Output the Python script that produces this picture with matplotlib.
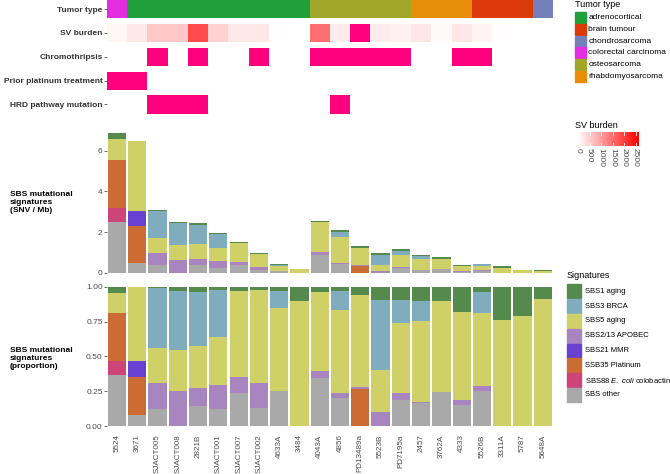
import numpy as np
import matplotlib
matplotlib.use('Agg')
import matplotlib.pyplot as plt
from matplotlib.colors import LinearSegmentedColormap, Normalize
from matplotlib.patches import Rectangle

plt.rcParams['font.family'] = ['Liberation Sans', 'DejaVu Sans']
plt.rcParams['mathtext.fontset'] = 'custom'
plt.rcParams['mathtext.it'] = 'Liberation Sans:italic'
plt.rcParams['mathtext.rm'] = 'Liberation Sans'

# samples, in plotting order
samples = ['5524', '3671', 'SJACT005', 'SJACT008', '2821B', 'SJACT001', 'SJACT007',
           'SJACT002', '4633A', '3484', '4043A', '4856', 'PD13489a', '5523B', 'PD7195a',
           '2457', '3762A', '4333', '5526B', '3311A', '5787', '5648A']

tumor_type = ['colorectal carcinoma', 'adrenocortical', 'adrenocortical', 'adrenocortical',
              'adrenocortical', 'adrenocortical', 'adrenocortical', 'adrenocortical',
              'adrenocortical', 'adrenocortical', 'osteosarcoma', 'osteosarcoma',
              'osteosarcoma', 'osteosarcoma', 'osteosarcoma', 'rhabdomyosarcoma',
              'rhabdomyosarcoma', 'rhabdomyosarcoma', 'brain tumour', 'brain tumour',
              'brain tumour', 'chondrosarcoma']
sv_burden = [100, 240, 580, 580, 1870, 470, 240, 240, 20, 0, 1500, 200, np.nan, 200, 150,
             250, 60, 250, 120, 30, 10, 0]
chromothripsis = [0, 0, 1, 0, 1, 0, 0, 1, 0, 0, 1, 1, 1, 1, 1, 0, 0, 1, 1, 0, 0, 0]
prior_platinum = [1, 1, 0, 0, 0, 0, 0, 0, 0, 0, 0, 0, 0, 0, 0, 0, 0, 0, 0, 0, 0, 0]
hrd_mutation = [0, 0, 1, 1, 1, 0, 0, 0, 0, 0, 0, 1, 0, 0, 0, 0, 0, 0, 0, 0, 0, 0]

# total SBS burden (SNV / Mb)
snv_total = [6.85, 6.5, 3.07, 2.51, 2.44, 1.93, 1.51, 0.96, 0.41, 0.18, 2.56, 2.08, 1.30,
             0.97, 1.16, 0.89, 0.75, 0.38, 0.43, 0.31, 0.15, 0.11]

# signature proportions per sample
sbs_other = [0.367, 0.077, 0.125, 0, 0.146, 0.125, 0.24, 0.132, 0.252, 0, 0.345, 0.199, 0, 0,
             0.19, 0.163, 0.245, 0.151, 0.254, 0, 0, 0]
sbs88 = [0.101, 0, 0, 0, 0, 0, 0, 0, 0, 0, 0, 0, 0, 0, 0, 0, 0, 0, 0, 0, 0, 0]
sbs35 = [0.342, 0.273, 0, 0, 0, 0, 0, 0, 0, 0, 0, 0, 0.269, 0, 0, 0, 0, 0, 0, 0, 0, 0]
sbs21 = [0, 0.12, 0, 0, 0, 0, 0, 0, 0, 0, 0, 0, 0, 0, 0, 0, 0, 0, 0, 0, 0, 0]
sbs2_13 = [0, 0, 0.185, 0.254, 0.127, 0.17, 0.11, 0.175, 0, 0, 0.051, 0.036, 0.014, 0.098,
           0.047, 0.007, 0, 0.039, 0.034, 0, 0, 0]
sbs5 = [0.15, 0.53, 0.25, 0.296, 0.302, 0.345, 0.624, 0.669, 0.594, 0.90, 0.57, 0.602, 0.662,
        0.302, 0.504, 0.585, 0.655, 0.628, 0.525, 0.765, 0.789, 0.916]
sbs3 = [0, 0, 0.43, 0.42, 0.391, 0.34, 0, 0, 0.123, 0, 0, 0.134, 0, 0.504, 0.168, 0.145, 0, 0,
        0.149, 0, 0, 0]
sbs1 = [0.04, 0, 0.01, 0.03, 0.034, 0.02, 0.026, 0.024, 0.031, 0.10, 0.034, 0.029, 0.055,
        0.096, 0.091, 0.10, 0.10, 0.182, 0.038, 0.235, 0.211, 0.084]

sig_labels = ['SBS1 aging', 'SBS3 BRCA', 'SBS5 aging', 'SBS2/13 APOBEC', 'SBS21 MMR',
              'SSB35 Platinum', r'SBS88 $\it{E.}$ $\it{coli}$ colobactin', 'SBS other']
sig_values = [sbs1, sbs3, sbs5, sbs2_13, sbs21, sbs35, sbs88, sbs_other]
sig_colors = ['#548B4C', '#7FADBE', '#CFD068', '#A985C0', '#6841D2', '#CB6C35', '#CC4478',
              '#A9A9A9']

tumor_names = ['adrenocortical', 'brain tumour', 'chondrosarcoma', 'colorectal carcinoma',
               'osteosarcoma', 'rhabdomyosarcoma']
tumor_colors = ['#1FA03A', '#DC3A0A', '#7480B8', '#E22EE0', '#A1A62A', '#E88D0A']
hot_pink = '#FF007F'

track_labels = ['Tumor type', 'SV burden', 'Chromothripsis', 'Prior platinum treatment',
                'HRD pathway mutation']

W, H = 670, 474
fig = plt.figure(figsize=(W / 100, H / 100), dpi=100)


def px(x0, y0, x1, y1):
    return [x0 / W, 1 - y1 / H, (x1 - x0) / W, (y1 - y0) / H]


txt = '#4D4D4D'
x = np.arange(len(samples))
xl, xr = 106.8, 553

# overlay axes in pixel coords for the legends
lg = fig.add_axes([0, 0, 1, 1], zorder=-1)
lg.set_xlim(0, W)
lg.set_ylim(H, 0)
lg.axis('off')

# ---- annotation tracks ----
at = fig.add_axes(px(xl, 0, xr, 113.5))
hh = 0.756
cmap_sv = LinearSegmentedColormap.from_list('sv', ['#FFFFFF', '#FF0000'])
norm_sv = Normalize(0, 2650)
tcol = dict(zip(tumor_names, tumor_colors))
at.bar(x, hh, bottom=-hh / 2, width=1, color=[tcol[t] for t in tumor_type])
svc = [hot_pink if np.isnan(v) else cmap_sv(norm_sv(v)) for v in sv_burden]
at.bar(x, hh, bottom=1 - hh / 2, width=1, color=svc)
for row, flags in [(2, chromothripsis), (3, prior_platinum), (4, hrd_mutation)]:
    f = np.array(flags) == 1
    at.bar(x[f], hh, bottom=row - hh / 2, width=1, color=hot_pink)
at.set_xlim(-0.5, len(samples) - 0.5)
at.set_ylim(4 + 0.378, -0.378)
at.set_yticks(range(5))
at.set_yticklabels(track_labels, fontsize=6, fontweight='bold', color='#333333')
at.set_xticks([])
at.tick_params(axis='y', length=2, width=0.5, color='#333333', pad=1)
for s in at.spines.values():
    s.set_visible(False)

# ---- absolute and proportional signatures ----
stack_order = list(range(len(sig_values)))[::-1]
tot = np.array(snv_total)
props = [np.array(v, dtype=float) for v in sig_values]
psum = np.sum(props, axis=0)
props = [p / psum for p in props]

a1 = fig.add_axes(px(xl, 126.5, xr, 279.7))
a2 = fig.add_axes(px(xl, 280, xr, 433))
bot1 = np.zeros(len(samples))
bot2 = np.zeros(len(samples))
for i in stack_order:
    v = props[i] * tot
    a1.bar(x, v, bottom=bot1, width=0.9, color=sig_colors[i], linewidth=0)
    a2.bar(x, props[i], bottom=bot2, width=0.9, color=sig_colors[i], linewidth=0)
    bot1 += v
    bot2 += props[i]

a1.set_ylim(-0.3425, 7.1925)
a1.set_yticks([0, 2, 4, 6])
a1.set_xticks([])
a2.set_ylim(-0.05, 1.05)
a2.set_yticks([0, 0.25, 0.5, 0.75, 1.0])
a2.set_yticklabels(['0.00', '0.25', '0.50', '0.75', '1.00'])
a2.set_xticks(x)
a2.set_xticklabels(samples, rotation=90, fontsize=5.8, color=txt)
for a in (a1, a2):
    a.set_xlim(-0.5, len(samples) - 0.5)
    a.tick_params(axis='y', labelsize=6, labelcolor=txt, length=2, width=0.5,
                  color='#333333', pad=1)
    a.tick_params(axis='x', length=0, pad=1)
    for s in a.spines.values():
        s.set_visible(False)

fig.text(10 / W, 1 - 203 / H, 'SBS mutational\nsignatures\n(SNV / Mb)', fontsize=6,
         fontweight='bold', ha='left', va='center', linespacing=1.2)
fig.text(10 / W, 1 - 358 / H, 'SBS mutational\nsignatures\n(proportion)', fontsize=6,
         fontweight='bold', ha='left', va='center', linespacing=1.2)

# ---- tumor type legend ----
lg.text(575, 4, 'Tumor type', fontsize=6.5, ha='left', va='center', color='black')
for k, (name, col) in enumerate(zip(tumor_names, tumor_colors)):
    yc = 17.8 + k * 11.7
    lg.add_patch(Rectangle((575, yc - 5.5), 11, 11, color=col))
    lg.text(588.5, yc, name, fontsize=6, ha='left', va='center', color='black')

# ---- SV burden colorbar ----
lg.text(575, 125, 'SV burden', fontsize=6.5, ha='left', va='center', color='black')
cb = fig.add_axes(px(578, 132, 639, 145.7))
grad = np.linspace(0, 2650, 256).reshape(1, -1)
cb.imshow(grad, cmap=cmap_sv, norm=norm_sv, aspect='auto', extent=(0, 2650, 0, 1))
cb.set_xlim(0, 2650)
cb.set_yticks([])
cb.set_xticks([0, 500, 1000, 1500, 2000, 2500])
cb.set_xticklabels(['0', '500', '1000', '1500', '2000', '2500'], rotation=270,
                   fontsize=6, color=txt)
cb.tick_params(axis='x', length=0, pad=2)
for tv in [0, 500, 1000, 1500, 2000, 2500]:
    cb.plot([tv, tv], [0, 0.2], color='white', lw=0.6)
    cb.plot([tv, tv], [0.8, 1], color='white', lw=0.6)
cb.set_ylim(0, 1)
for s in cb.spines.values():
    s.set_visible(False)

# ---- signatures legend ----
lg.text(567, 275, 'Signatures', fontsize=6.5, ha='left', va='center', color='black')
for k, (name, col) in enumerate(zip(sig_labels, sig_colors)):
    yc = 291.3 + k * 14.8
    lg.add_patch(Rectangle((567, yc - 7), 13.5, 14, color=col))
    lg.text(585, yc, name, fontsize=5.5, ha='left', va='center', color='black')

fig.savefig('out.png', dpi=100)
